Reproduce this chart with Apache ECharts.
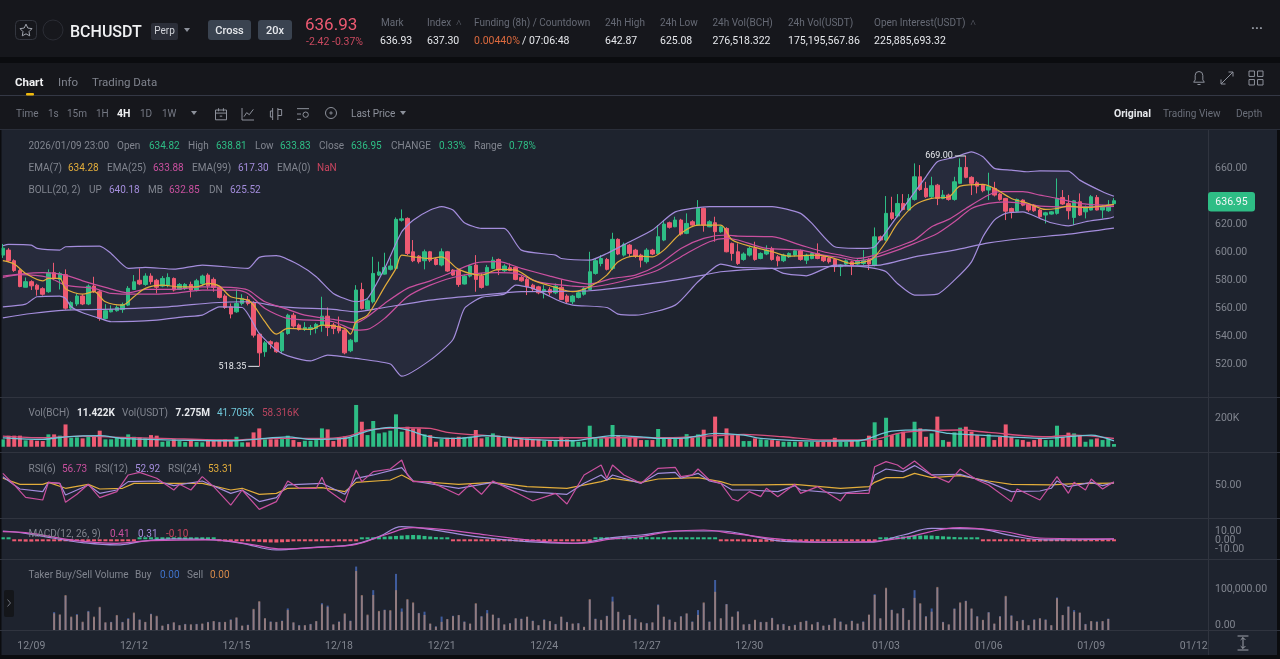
<!DOCTYPE html>
<html><head><meta charset="utf-8">
<style>html,body{margin:0;padding:0;background:#0b0c0f;overflow:hidden}#c{width:1280px;height:659px}</style>
<script src="https://cdn.jsdelivr.net/npm/echarts@6/dist/echarts.min.js"></script></head>
<body><div id="c"></div>
<script>
const opens=[598,601.6,594,587,575,579,576.5,574,571.8,585.4,
580.6,584,560,563,568.7,563,575.8,571.8,552.7,557.4,
558.2,559,562.2,573.4,580,577,583,580,575.8,576.5,
581.3,573.4,574,577,573,577.7,583.7,580.6,574.9,568.7,
561,557.4,563.4,566,563.9,541.4,528.8,536,535.2,529.5,
541.9,555,547.9,544.8,544.8,545.5,547.9,554.3,548,547.2,
544.3,529.5,536,573.4,559.3,564.6,583.7,584.4,587.8,588.5,
623,624.3,600.4,597.3,594,600.4,595.2,590.9,600.4,587.3,
587.3,577.3,583,590.9,583,576.5,588.5,594.9,586.8,589,
589.2,582,580.6,576.5,575.3,571.8,573.4,571,574.9,568.7,
564.6,567.7,570,573.4,584.9,592,594.9,588.5,609.3,598,
605.2,601.6,598,593.3,601.6,599.2,608.8,621.2,618.3,623.1,
613.6,621.9,619.5,631.5,618.3,621.2,614.8,617.1,606.4,600.4,
594.9,598,602.8,595.6,598.8,602.8,596.8,594,596.8,598,
601.1,594.4,595.6,599.2,596.8,595.6,594.9,589.7,591.6,593.2,
591.6,592,594.9,590.9,611.1,608.8,628.3,626,635,630.3,
637.9,654.1,645.8,639.8,648.1,638.6,641,637.9,649.4,660.8,
653.7,649.8,648.2,644.6,645.8,641.7,638.6,631.4,629.5,637.4,
634.5,633.8,630.3,626.7,627.4,627.9,639.3,635,625,636.2,
629,630.3,639.3,630.3,629.8,634.82];
const closes=[603,594,587,575.5,579,576,573.5,570,585.4,581.3,
584.9,560,564,568.7,563,575.8,571.8,552.7,558.2,559,
560.5,562.7,574.2,578.9,577.3,583,579,575,581.3,582,
573,577,577,573,579.6,583,576,574.9,567.7,560.5,
555.8,563.4,567,563.4,540.7,528,535.2,534.3,528.8,542.4,
555,547.2,544.8,546.2,546.2,548.4,554.3,546.2,545.5,543.8,
528,537.1,573,559.8,565.3,584.9,586,589.2,590.2,623.6,
624,599.2,594,593.3,600.4,594.4,591.3,600.4,586.6,583.7,
577,583,590.2,580.6,574.9,589.2,594.4,587.3,590.2,587,
580.6,579.6,575.3,573.7,571,573.4,571,575.8,566.3,564.6,
568.7,571,574.2,586.1,594,595.6,587.8,609.3,598.8,605.7,
599.2,597.3,594.4,601.6,598.8,611.2,620.2,617.9,623.1,613.1,
620.7,619.5,631.5,619.5,621.9,614.8,618.3,600.4,599.2,592,
598.8,602.8,594.9,599.2,601.6,594.9,594,598,599.2,601.1,
594.9,598,599.2,595.6,594,593.3,589.7,590.9,593.9,590.8,
594,594.4,591.6,611.1,608.8,627.9,624.3,635,630.7,638.6,
654.1,645,639.8,647.7,638.6,641,637.9,650.5,660.8,653.7,
649.4,647.4,644.1,647,641,637.9,629.5,629,637.9,633.8,
630.3,629.8,625.5,628.3,629,638.6,634.6,629.8,636.9,626.7,
632.6,639.8,630.3,633.1,633.8,636.95];
const highs=[606,603,595,588,582,580,577.5,575,587.8,592.5,
586,587.8,565,570.6,570,577,582.5,573,562.9,562,
562,564,575.8,583.7,588.5,585,585,581,583,585,
582,578,578,579,581,584,585,582,576,570,
563.4,573.4,570,568.7,565,542,536.5,537,536,543.4,
556,556.7,549,550,548,549.5,568.2,560.5,549.5,554,
545,538,576.5,578.2,567,596.8,593.3,599.7,595.6,625,
630.7,625,608.8,598,602,601,596,602.8,601,588,
588,584,591,598,585,591,596.8,595.6,591.5,592,
590,583,582,577.5,576,576.5,575,577.7,580.6,570,
569.5,572,575,600.4,596,598,596,614,610,607,
606,602.5,599,603,602.5,619.5,623,622,625.5,624,
627.9,623,637.4,632,623,625.5,619,618,607,606.4,
600,604,607.6,600,605,604,598,599,600,602,
602,599,600,606.4,598,596.5,596,591.5,595,594,
595,601.6,596,617.8,612,640.3,639.8,641.7,641.7,641.7,
663.7,662.5,650.5,654.1,649,644.6,642,654.1,667.3,669,
654.5,651,649,657,650.5,642.5,639,632,638.5,638,
635,634.5,631,629,629.5,652.9,644.6,641,637.5,642.2,
633.5,641,641,634,637.4,638.81];
const lows=[596,593,586,575,575,573,569,569,571,580,
573.4,559,559,561.5,562.2,562.2,571,551,552.2,557,
557.5,556.7,561.5,573,576.5,576,577,570.6,575,575,
572,573,573,567.7,572,576,573.4,571.8,567,559.5,
552.7,556.7,562,562,539,518.35,525.2,531,528,527.6,
541,546,544,543.7,540.7,541.9,543.1,540,541.4,542,
527,528.5,535.5,559,558,563.4,583,584,587,587.8,
622,598,593,592,587.8,593,590.6,590,586,583,
575.3,577,582,571.8,574,576,588,583.7,586,586.5,
580,579,569.4,572,570,567,569,570,565.8,563.4,
563,567,569,573,584,590,587,587.3,598,597,
596.8,596,589.2,592,598,598.8,608,617,618,612,
613,619,619,614.8,618,607.6,614,600,594,591,
594,597,594,595,598,594,590,593,596,597,
594,591.6,595,595,593,592,586,583,590,583.7,
591,591,587.3,590,608,608,623,625,630,630,
637,644,639,639,633.8,638,637,637,649,653,
641,642.2,643,637.4,640,637,623.1,624.3,629,633,
629,629,624.5,620.7,627,627,634,623.6,619.5,626,
624.3,630,630,624.3,629,633.83];
const volumeK=[52,78,78,78,45,47,42,40,87,87,
78,157,63,66,59,70,70,113,52,52,
66,59,87,70,66,59,82,78,35,40,
52,40,33,42,33,31,42,42,49,52,
45,70,31,31,101,129,52,52,52,54,
78,47,33,42,42,47,129,122,40,66,
73,66,294,176,82,181,94,101,113,228,
106,141,129,129,87,82,35,54,63,63,
70,66,66,118,59,70,94,78,70,66,
47,59,59,52,52,42,47,47,70,52,
42,35,35,148,59,59,66,153,82,70,
70,66,47,47,47,125,59,59,54,59,
89,63,87,120,54,212,59,129,82,82,
40,40,59,52,47,47,42,35,35,35,
35,35,35,35,35,35,63,35,35,47,
42,35,78,172,47,204,82,94,106,59,
176,129,70,94,212,47,35,101,134,141,
106,82,63,87,47,70,157,70,52,47,
35,47,59,47,47,148,70,99,94,82,
35,52,59,47,59,19];
const macdHist=[0.8,0.7,-2,-2.2,-2.5,-2.5,-2.2,-2,-1.8,-1.6,-1.3,
-1.2,-1.5,-1.5,-1.5,-1.6,-1.5,-1.5,-1.3,-1,-0.8,
-0.5,-0.3,-0.2,0.2,0.5,1,1.2,1.5,1.4,1.3,1.2,1.2,1.1,1,0.9,0.7,0.4,
-0.5,-0.8,-1,-1.2,-1.4,-1.6,-2,-2.8,-3.2,-3.4,-3.5,-3.2,-2.8,-2.2,-1.6,-1.2,-1,-0.8,-0.8,-0.7,-0.6,-0.5,-0.4,-0.3,-0.2,
1,1.6,2,2.4,2.8,3.2,3.6,4,4.4,4.6,4.4,3.6,3,2.4,1.8,1.3,
-0.8,-1,-1.2,-1.4,-1.6,-1.8,-2,-2,-1.8,-1.8,-1.6,-1.6,-1.4,-1.4,-1.2,-1.2,-1,-1,-1,-0.9,-0.8,-0.8,-0.6,-0.4,-0.2,
0.4,0.6,0.8,1,1.2,1.6,1.8,2,2.2,2.2,2.2,2.2,2.1,2,1.9,1.7,1.6,1.5,1.3,1.1,0.8,0.5,
-0.8,-1.2,-1.6,-2,-2.4,-2.6,-2.8,-2.8,-2.6,-2.4,-2.2,-2,-1.8,-1.6,-1.5,-1.4,-1.3,-1.2,-1.1,-1,-1,-0.9,-0.8,-0.8,-0.7,-0.6,-0.4,-0.2,
0.8,1.4,2,2.6,3,3.4,3.8,4,4.2,4,3.6,3.2,2.8,2.4,2,1.6,1.2,0.8,
-0.8,-1,-1.2,-1.4,-1.6,-1.8,-2,-2.2,-2.4,-2.4,-2.4,-2.2,-2,-1.8,-1.5,-1.2,-1,-0.9,-0.8,-0.7,-0.6,-0.5,-0.3,-0.1];
const takerSellK=[null,null,null,null,null,null,null,null,null,
41,38.5,86,33,37,20.5,45,33,57,19,19,37,19,27,43,25,20,38.5,35,11,14,19,12,14,14,14,16,19,22,19,20,25,31,11,12,52,71,29,20,20,22,49,19,11,12,14,22,63,57,14,20,41,22,145,86,38,86,47,49,49,98,45,76,68,41,37,16,8,20,27,34,37,20,16,66,33,41,38,29,14,16,29,27,33,22,12,25,22,14,33,19,16,16,8,76,27,25,34,70,45,25,37,27,
19,16,19,61,33,25,20,33,41,20,37,68,20,94,29,63,33,45,14,14,25,19,20,29,14,14,10,12,20,22,14,19,11,12,29,20,14,22,16,20,38,86,29,104,49,41,53,25,79,66,33,45,106,19,14,52,68,71,53,33,25,43,16,33,84,35,22,24,12,25,29,25,12,78,37,57,45,43,14,22,20,22,27,null];
const takerBuyK=[null,null,null,null,null,null,null,null,null,
44,37,84,31,39,19,47,31,55,18,20,35,20,29,41,26,19,40,33,10,15,18,11,15,13,15,15,20,21,20,19,26,30,10,13,50,69,28,21,19,23,53,18,12,11,15,21,66,60,13,21,39,23,156,84,36,98,45,50,47,138,53,74,66,42,45,15,9,33,26,35,36,21,15,64,34,49,37,30,13,17,28,28,32,23,11,26,21,15,32,20,15,17,7,74,28,24,35,82,44,26,36,28,
18,17,18,63,32,26,19,34,40,21,49,66,21,123,28,64,32,46,13,15,24,20,19,30,13,15,9,13,19,23,13,20,10,13,28,21,13,23,15,21,37,88,28,102,50,40,54,24,98,64,34,53,104,20,13,53,66,72,52,34,24,44,15,34,82,36,21,25,11,26,28,26,11,80,36,58,49,42,15,21,21,21,28,null];

const ema7=[[0,594],[2,591.6],[4,584.9],[7,579.6],[8,581.3],[10,581.3],[11,574],[14,570],[16,571.8],[18,564.6],[21,562.2],[23,568.2],[25,574.2],[28,576.5],[31,575.3],[34,575.3],[36,577.7],[38,575.8],[40,568.2],[43,565.8],[44,562.2],[46,550.3],[48,541.4],[50,545.5],[54,544.8],[56,547.9],[60,545.5],[61,541.4],[62,550.3],[64,555],[67,575.3],[69,588.5],[70,598],[72,596.8],[75,595.6],[77,596.8],[80,587.8],[84,583.7],[87,587.8],[90,587.3],[93,580.1],[97,574.9],[100,571.8],[103,575.3],[106,583.7],[108,593.3],[111,597.3],[114,596.8],[116,601.6],[119,613.6],[122,619.5],[126,619.5],[128,608.8],[132,603.5],[135,600.4],[138,597.3],[143,598],[146,595.6],[149,592],[152,594],[153,596.8],[155,607.6],[157,620.7],[160,633.8],[163,638.6],[166,639.8],[168,647.4],[172,648.6],[174,645.8],[177,638.6],[180,635],[183,630.7],[185,631.4],[187,633.1],[190,632],[193,633.1],[195,634.3]];
const ema25=[[0,583],[3,584.4],[7,585.4],[11,583.7],[14,579.6],[18,574.9],[22,571],[25,573.4],[30,573.4],[35,575.3],[40,574.9],[43,573],[46,564.6],[50,559.1],[53,555],[58,552],[62,549.6],[64,553.9],[67,563.4],[71,574.2],[75,579.6],[79,586],[83,592.5],[87,593.3],[91,588.5],[96,583],[100,579],[103,577.3],[107,581.3],[111,583.7],[115,590.9],[119,602.8],[123,610],[127,612.4],[129,611.6],[135,611.2],[140,605.2],[144,600.4],[147,598],[150,595.6],[153,598],[157,604],[160,608.8],[163,618.3],[166,623.6],[169,631.4],[173,641],[175,643.4],[179,643.4],[182,641],[185,638.6],[189,635],[193,633.8],[195,633.9]];
const ema99=[[0,553.1],[5,556.2],[11,558.6],[17,559.1],[29,561],[37,563.9],[43,564.6],[49,561],[58,559.1],[62,557.4],[66,559.8],[75,565.8],[84,569.4],[91,571.8],[103,572.5],[114,577.7],[123,583.7],[126,586.1],[135,588.5],[147,590.1],[154,590.9],[160,596.8],[167,601.6],[173,606.8],[179,609.9],[187,613],[195,617.3]];
const bollUp=[[0,604.7],[1,605.7],[5,605.2],[6,602.8],[10,601.6],[11,604],[17,604.5],[19,599.2],[22,588.5],[25,589.2],[30,588],[35,590.9],[43,588.5],[45,596.4],[48,597.6],[52,590.9],[55,582.5],[58,570.6],[62,564.6],[64,567],[67,588.5],[70,614.7],[72,623],[75,630.3],[77,632.7],[79,630.3],[81,621.2],[84,617.1],[88,617.1],[91,601.6],[97,598],[98,595.6],[103,594.4],[106,599.2],[110,607.6],[114,616],[118,629],[124,632.7],[135,632.7],[140,627.9],[142,620.7],[146,604],[151,602.8],[153,604],[155,614.7],[159,637.4],[162,654.1],[164,664.9],[167,668],[170,672],[172,668.5],[174,660.1],[177,658.9],[180,657.7],[182,658.4],[187,658.2],[189,651.7],[193,643.4],[195,640.2]];
const bollMb=[[0,582],[3,584],[8,582],[11,576.5],[16,574.2],[19,570.6],[24,570],[30,570.6],[35,573],[41,573],[43,570.6],[46,559.8],[50,552.7],[58,550.3],[62,544.3],[64,544.8],[67,552.7],[71,568.2],[75,576.5],[79,582],[82,584.4],[87,585.4],[90,584.9],[94,578.9],[100,575.8],[103,575.3],[107,577.7],[111,582],[115,587.3],[120,599.2],[124,607.6],[127,610],[129,608.8],[134,602.8],[140,601.6],[144,598],[147,596.3],[150,594],[153,596.3],[157,601.6],[160,606.4],[164,613.5],[167,621.9],[170,631.4],[173,635],[176,636.2],[179,635],[182,633.1],[187,632.6],[191,632.6],[195,632.85]];
const bollDn=[[0,561],[4,562.9],[6,568.2],[10,568.7],[11,567],[12,561],[14,556.7],[17,552.7],[19,550.3],[27,551.5],[32,553.9],[35,555],[38,561],[42,560.5],[45,541.9],[48,530],[50,525.9],[54,522.3],[57,526.4],[62,524],[68,520],[70,511.3],[75,522.8],[79,537.6],[81,559.8],[84,567.7],[88,570.1],[90,576.5],[93,574.2],[98,564.6],[100,562.2],[106,560.5],[108,555.8],[111,555],[118,562.2],[122,578.9],[126,591.6],[129,589.2],[135,588.5],[137,584.9],[141,583.2],[146,590.9],[150,590.1],[153,588.5],[155,586.1],[157,577.7],[160,569.4],[164,570.1],[167,580.1],[170,593.2],[172,611.1],[174,623.1],[176,627.9],[179,629],[182,624.3],[184,621.2],[187,619],[190,621.9],[194,624.3],[195,625.5]];
const volMaPink=[[0,75],[7,63],[14,75],[21,66],[28,59],[40,47],[48,59],[57,59],[61,78],[64,118],[71,134],[75,129],[78,101],[85,78],[92,63],[112,63],[119,66],[125,78],[130,87],[137,70],[144,47],[152,47],[158,101],[168,118],[173,101],[183,70],[188,82],[195,58]];
const volMaCyan=[[0,63],[7,52],[11,70],[17,78],[21,59],[30,47],[40,42],[44,52],[50,70],[54,52],[60,59],[64,110],[68,136],[71,118],[75,70],[80,59],[85,78],[92,52],[100,42],[107,78],[112,70],[115,59],[119,59],[125,94],[130,82],[133,59],[143,40],[150,42],[156,110],[162,118],[166,94],[173,78],[183,59],[191,82],[195,42]];
const rsi6=[[0,63.3],[2,50.4],[4,36.7],[7,33.7],[8,53.3],[10,52.2],[11,31.1],[13,40],[15,51.1],[17,36.3],[20,43],[22,61.5],[24,64.4],[27,57.8],[30,44.8],[31,51.1],[33,44.8],[35,59.6],[37,48.5],[40,28.1],[42,44.8],[45,23.3],[48,31.9],[50,54.8],[52,46.7],[55,46.7],[56,58.9],[57,44.8],[60,31.1],[62,67],[63,54.1],[65,65.2],[68,68.1],[70,78.1],[71,61.5],[72,54.1],[75,54.1],[80,39.3],[82,51.1],[84,40],[86,54.8],[90,42.2],[93,32.6],[97,41.1],[99,29.3],[102,61.5],[105,72.6],[106,57.8],[107,72.6],[109,61.5],[112,52.2],[115,68.9],[118,70],[119,59.6],[121,61.5],[122,68.1],[124,55.9],[126,52.2],[128,34.8],[129,32.6],[131,43],[133,37.4],[134,46.7],[136,37.4],[139,51.1],[140,41.1],[143,48.5],[147,32.6],[148,41.1],[152,41.1],[153,70.7],[155,76.3],[157,72.6],[158,68.1],[160,77],[163,61.5],[166,53.3],[168,68.1],[171,55.9],[173,50.4],[177,31.9],[178,45.9],[182,33.7],[185,59.6],[187,41.1],[188,53.3],[190,44.8],[191,57],[193,45.9],[195,54]];
const rsi12=[[0,59.6],[3,45.9],[7,43],[8,53.3],[10,52.2],[11,39.3],[15,50.4],[17,41.1],[20,44.8],[22,54.1],[27,54.8],[30,49.6],[35,54.8],[40,41.1],[42,44.8],[45,31.9],[48,36.3],[50,50.4],[56,52.2],[60,40],[62,57.8],[65,61.5],[70,69.6],[72,54.8],[80,46.7],[86,53.3],[92,43],[99,40],[102,52.2],[105,61.5],[106,55.9],[107,61.5],[112,52.2],[115,63.3],[118,64.4],[119,57.8],[122,63.3],[124,54.8],[126,52.2],[128,44.8],[131,44.8],[136,43],[139,49.6],[140,44.8],[147,41.1],[152,44.8],[153,61.5],[155,68.1],[158,65.2],[160,71.9],[163,61.5],[168,62.2],[173,53.3],[177,43],[182,43.7],[184,46.7],[185,54.8],[187,48.5],[191,53.3],[193,49.6],[195,53]];
const rsi24=[[0,57.8],[3,51.1],[7,51.1],[8,53.3],[11,46.7],[15,51.1],[17,45.9],[21,46.7],[23,52.2],[30,52.2],[35,52.2],[40,44.8],[42,46.7],[45,40],[48,41.1],[50,46.7],[56,47.4],[60,43],[62,53.3],[68,55.9],[70,61.5],[72,54.8],[80,51.1],[86,53.3],[92,48.5],[99,46.7],[105,54.1],[107,57.8],[112,53.3],[115,57],[118,57.8],[122,58.5],[126,54.1],[128,50.4],[133,50.4],[139,51.1],[147,46.7],[152,48.5],[153,53.3],[155,58.5],[158,58.5],[160,63.3],[163,58.5],[168,60.7],[173,54.8],[177,51.1],[184,50.4],[188,51.9],[195,52.5]];
const macdDif=[[0,8.9],[4,6.4],[9,1.1],[14,-3.6],[20,-6.1],[25,-1.8],[30,0.4],[37,-0.7],[42,-4.3],[48,-11.4],[54,-8.9],[61,-6.1],[66,2.9],[70,13.6],[75,10.7],[83,2.9],[92,-2.5],[100,-4.3],[107,1.8],[112,4.6],[118,8.9],[126,8.9],[132,2.9],[138,-2.5],[152,-3.2],[158,4.6],[163,11.8],[171,11.1],[177,3.9],[183,-0.7],[195,0.3]];
const macdDea=[[0,8.2],[5,6.4],[12,-0.7],[20,-4.3],[26,-1.4],[37,-0.7],[44,-6.1],[49,-10.4],[57,-7.9],[62,-5.4],[67,4.6],[72,12.5],[77,10.7],[85,4.6],[94,-1.8],[101,-4.3],[107,0.4],[112,2.9],[117,8.2],[123,10],[128,6.4],[136,0.4],[144,-3.2],[152,-2.5],[158,1.8],[168,12.5],[175,8.9],[183,1.1],[195,0.4]];
const priceTicks=[520,540,560,580,600,620,660];
const volTicks=[200];
const rsiTicks=[50];
const macdTicks=[-10,0,10];
const takerTicks=[100];
const xTickLabels=['12/09','12/12','12/15','12/18','12/21','12/24','12/27','12/30','01/03','01/06','01/09','01/12'];
const xTickIndex=[5,23,41,59,77,95,113,131,155,173,191,209];
const extremes=[[169,669,'669.00'],[45,518.35,'518.35']];
const lastClose=636.95;

const categories=[];
{const t0=Date.UTC(2025,11,8,4);
 for(let i=0;i<212;i++){const d=new Date(t0+i*4*3600e3);
  const p=n=>String(n).padStart(2,'0');
  categories.push(p(d.getUTCMonth()+1)+'/'+p(d.getUTCDate())+' '+p(d.getUTCHours())+':00');}}
const GREEN='#2ebd85',RED='#ee5a72',PINK='#c9509f',PURPLE='#a48ddc',YEL='#e2ad3b',GREY='#81858f',WHITE='#e6e8ec',CYAN='#6fc6d8';
const candleData=opens.map((o,i)=>[o,closes[i],lows[i],highs[i]]);
const volData=volumeK.map((v,i)=>({value:v,itemStyle:{color:closes[i]>=opens[i]?GREEN:RED}}));
const histData=macdHist.map(v=>({value:v,itemStyle:{color:v>=0?GREEN:RED}}));

const T=(x,y,text,fill,size,weight,align)=>({type:'text',z:100,silent:true,x,y:y+1,style:{text,fill:fill||GREY,font:(weight||400)+' '+(size||10.5)+'px Roboto',textAlign:align||'left',textVerticalAlign:'middle'}});
const R=(x,y,w,h,fill,r)=>({type:'rect',z:99,silent:true,shape:{x,y,width:w,height:h,r:r||0},style:{fill}});
const L=(x1,y1,x2,y2,stroke)=>({type:'line',z:99,silent:true,shape:{x1,y1,x2,y2},style:{stroke:stroke||'#30343f',lineWidth:1}});
const P=(d,x,y,w,h,stroke)=>({type:'path',shape:{pathData:d,layout:'center',x:x-w/2,y:y-h/2,width:w,height:h},style:{stroke:stroke||'#8d919b',fill:'none',lineWidth:1}});
const Tri=(x,y,c)=>({type:'polygon',z:100,silent:true,shape:{points:[[x-3,y-2],[x+3,y-2],[x,y+2]]},style:{fill:c||'#8d919b'}});
const row=(y,items)=>items.map(it=>T(it[0],y,it[1],it[2]||GREY,10,it[3]));

const icons=[
 P('M12 2l3 6.500 7 1-5 5 1.200 7-6.200-3.400L5.800 21.500 7 14.500l-5-5 7-1z',26,30,12,12,'#a0a4ad'),
 P('M12 3a5 5 0 0 1 5 5v6l2 3H5l2-3V8a5 5 0 0 1 5-5zM10 20h4',1199,78,12,13),
 P('M4 20L20 4M14 4h6v6M4 14v6h6',1227,78,12,12),
 P('M3 3h7v7H3zM14 3h7v7h-7zM3 14h7v7H3zM14 14h7v7h-7z',1256,78,14,14),
 P('M3 5h18v16H3zM3 10h18M8 2v5M16 2v5M10 15h4',221,114,11,12),
 P('M3 3v18h18M6 16l4-6 4 3 6-8',248,114,12,12),
 P('M7 4v16M7 8h-3v8h3M14 4v16M14 6h5v8h-5',276,114,12,12),
 P('M3 4h18M3 12h6M3 20h6M16 17a4 4 0 1 0 0-8 4 4 0 0 0 0 8z',303,114,12,12),
 P('M12 22a10 10 0 1 0 0-20 10 10 0 0 0 0 20zM12 14a2 2 0 1 0 0-4 2 2 0 0 0 0 4z',331,113,11,11),
 P('M9 5l6 7-6 7',9,603,4,7,'#6e727c'),
 P('M5 3h14M5 21h14M12 5v14M9 8l3-3 3 3M9 16l3 3 3-3',1243,643,11,14,'#9da1aa')
];

const graphics=[
 R(0,0,1280,57,'#16171c'),R(0,57,1280,6,'#0b0c0f'),R(0,63,1280,67,'#16171c'),
 R(0,655,1280,4,'#0b0c0f'),R(0,130,1.5,525,'#0b0c0f'),R(1277,130,3,525,'#0b0c0f'),
 L(0,95.5,1280,95.5,'#343845'),L(0,129.5,1280,129.5,'#2a2e39'),
 {type:'rect',z:100,silent:true,shape:{x:15.5,y:20.5,width:21,height:19,r:4},style:{fill:'none',stroke:'#33363f'}},
 {type:'circle',z:100,silent:true,shape:{cx:53,cy:30,r:10},style:{fill:'#17181d',stroke:'#2b2d35'}},
 T(70,32,'BCHUSDT','#f0f1f3',16,500),
 R(151,23,27,17,'#2b2e38',2),T(164.5,30.5,'Perp','#d0d2d8',10,400,'center'),Tri(187,30),
 R(208,20,43,20,'#3a4350',3),T(229.5,30,'Cross','#e6e8ec',11,500,'center'),
 R(258,20,34,20,'#3a4350',3),T(275,30,'20x','#e6e8ec',11,500,'center'),
 T(305,25,'636.93','#ee5a72',17,400),T(306,41,'-2.42 -0.37%','#c9495f',10.5),
 T(381,22,'Mark','#666a75',10),T(380,40,'636.93',WHITE,10.5),
 T(427,22,'Index  ˄','#666a75',10),T(427,40,'637.30',WHITE,10.5),
 T(474,22,'Funding (8h) / Countdown','#666a75',10),T(474,40,'0.00440%','#dd6a3e',10.5),T(522,40,'/ 07:06:48',WHITE,10.5),
 T(605,22,'24h High','#666a75',10),T(605,40,'642.87',WHITE,10.5),
 T(660,22,'24h Low','#666a75',10),T(660,40,'625.08',WHITE,10.5),
 T(712.5,22,'24h Vol(BCH)','#666a75',10),T(712.5,40,'276,518.322',WHITE,10.5),
 T(788,22,'24h Vol(USDT)','#666a75',10),T(788,40,'175,195,567.86',WHITE,10.5),
 T(874,22,'Open Interest(USDT)  ˄','#666a75',10),T(874,40,'225,885,693.32',WHITE,10.5),
 T(1257,28,'···','#9a9ea8',13,700,'center'),
 T(15,82,'Chart','#f0f1f3',11.5,700),T(58,82,'Info','#80848e',11.5),T(92,82,'Trading Data','#80848e',11.5),
 R(26,93,8,2.5,'#f0b90b',1),
 T(16,113.5,'Time','#757984',10),T(48,113.5,'1s','#757984',10),T(67,113.5,'15m','#757984',10),T(96,113.5,'1H','#757984',10),
 T(117,113.5,'4H','#f0f1f3',10.5,700),T(140,113.5,'1D','#757984',10),T(162,113.5,'1W','#757984',10),Tri(194,113),
 T(351,113.5,'Last Price','#8d919b',10),Tri(403,113),
 T(1114,113.5,'Original','#e6e8ec',10.5,700),T(1163,113.5,'Trading View','#6a6e79',10),T(1236,113.5,'Depth','#6a6e79',10),
 ...row(145,[[28.5,'2026/01/09 23:00'],[117,'Open'],[149,'634.82',GREEN],[188,'High'],[216,'638.81',GREEN],[255,'Low'],[280,'633.83',GREEN],[319,'Close'],[351,'636.95',GREEN],[391,'CHANGE'],[439,'0.33%',GREEN],[474,'Range'],[509,'0.78%',GREEN]]),
 ...row(167,[[28.5,'EMA(7)'],[68,'634.28',YEL],[107,'EMA(25)'],[153,'633.88',PINK],[192,'EMA(99)'],[238,'617.30',PURPLE],[277,'EMA(0)'],[317,'NaN','#c9455f']]),
 ...row(189,[[28.5,'BOLL(20, 2)'],[89,'UP'],[109,'640.18',PURPLE],[148,'MB'],[169,'632.85',PINK],[209,'DN'],[230,'625.52',PURPLE]]),
 ...row(412,[[28.5,'Vol(BCH)'],[77,'11.422K',WHITE,700],[122,'Vol(USDT)'],[175.5,'7.275M',WHITE,700],[217,'41.705K',CYAN],[262,'58.316K','#b9455f']]),
 ...row(468,[[28.5,'RSI(6)'],[62,'56.73',PINK],[95,'RSI(12)'],[135,'52.92',PURPLE],[168,'RSI(24)'],[208,'53.31',YEL]]),
 ...row(533,[[28.5,'MACD(12, 26, 9)'],[110,'0.41',PINK],[138,'0.31',PURPLE],[166,'-0.10','#c9455f']]),
 ...row(574.5,[[28.5,'Taker Buy/Sell Volume'],[135,'Buy'],[160,'0.00','#3f72c9'],[187,'Sell'],[210,'0.00','#d68a4a']]),
 L(0,397.5,1280,397.5),L(0,452.5,1280,452.5),L(0,518.5,1280,518.5),L(0,559.5,1280,559.5),L(0,630.5,1280,630.5),L(1208.5,130,1208.5,655),
 R(1208,192,47,19.5,'#2ebd85',3),T(1231.5,201,lastClose.toFixed(2),'#f4f6f8',10.5,400,'center'),
 R(4,590,10,27,'#14161a',2),
 T(1215,624,'0.00',GREY,10.5)
];

const panes=[{top:130,h:267,min:496.4,max:687.6,ticks:priceTicks,fmt:v=>v.toFixed(2)},
 {top:397,h:55,min:-37,max:350,ticks:volTicks,fmt:v=>v+'K'},
 {top:452,h:66,min:13.7,max:87,ticks:rsiTicks,fmt:v=>v.toFixed(2)},
 {top:518,h:41,min:-21.2,max:22.9,ticks:[],fmt:v=>v.toFixed(2)},
 {top:559,h:71,min:0,max:174.6,ticks:takerTicks,fmt:v=>(v*1000).toLocaleString('en-US')+'.00'}];

const line=(name,data,color,g,extra)=>Object.assign({type:'line',name,data,xAxisIndex:g,yAxisIndex:g,showSymbol:false,symbol:'none',lineStyle:{color,width:1.2},itemStyle:{color},z:5,silent:true,animation:false},extra||{});

const option={
 animation:false,backgroundColor:'#1e232e',
 textStyle:{fontFamily:'Roboto'},
 grid:panes.map(p=>({left:0,width:1208,top:p.top,height:p.h})),
 xAxis:panes.map((p,i)=>({type:'category',gridIndex:i,data:categories,boundaryGap:true,axisLine:{show:false},axisTick:{show:false},splitLine:{show:false},
   axisLabel:i<4?{show:false}:{show:true,color:GREY,fontSize:10.5,margin:11,
     interval:(idx)=>xTickIndex.includes(idx),
     formatter:(v,idx)=>xTickLabels[xTickIndex.indexOf(idx)]||''}})),
 yAxis:panes.map((p,i)=>({type:'value',gridIndex:i,position:'right',min:p.min,max:p.max,scale:true,axisLine:{show:false},axisTick:{show:false},splitLine:{show:false},
   axisLabel:i===3?{show:false}:{customValues:p.ticks,color:GREY,fontSize:10.5,margin:7,padding:[2,0,0,0],formatter:p.fmt}})),
 graphic:{elements:graphics},
 series:[
  {type:'custom',name:'BOLL band',xAxisIndex:0,yAxisIndex:0,z:1,silent:true,clip:true,data:[[0,600]],
   renderItem:(params,api)=>{const pts=bollUp.map(d=>api.coord(d)).concat(bollDn.slice().reverse().map(d=>api.coord(d)));
     return {type:'polygon',shape:{points:pts},style:{fill:'rgba(130,115,190,0.10)'}};}},
  {type:'candlestick',name:'BCHUSDT',data:candleData,xAxisIndex:0,yAxisIndex:0,barWidth:4,z:3,silent:true,
   itemStyle:{color:GREEN,color0:RED,borderColor:GREEN,borderColor0:RED,borderWidth:1}},
  line('UP',bollUp,PURPLE,0,{smooth:0.2}),line('MB',bollMb,PINK,0,{smooth:0.25}),line('DN',bollDn,PURPLE,0,{smooth:0.2}),
  line('EMA99',ema99,PURPLE,0,{smooth:0.25}),line('EMA25',ema25,PINK,0,{smooth:0.25}),line('EMA7',ema7,YEL,0,{smooth:0.3}),
  {type:'custom',name:'extremes',xAxisIndex:0,yAxisIndex:0,z:6,silent:true,clip:false,data:extremes,
   renderItem:(params,api)=>{const d=extremes[params.dataIndex];const c=api.coord([d[0],d[1]]);
     return {type:'group',children:[
      {type:'line',shape:{x1:c[0],y1:c[1],x2:c[0]-11,y2:c[1]},style:{stroke:'#e6e8ec',lineWidth:1}},
      {type:'text',x:c[0]-13,y:c[1],style:{text:d[2],fill:'#e6e8ec',font:'400 9px Roboto',textAlign:'right',textVerticalAlign:'middle'}}]};}},
  {type:'bar',name:'Vol',data:volData,xAxisIndex:1,yAxisIndex:1,barWidth:4,silent:true},
  line('VolMA pink',volMaPink,'#d8507e',1,{smooth:0.3,lineStyle:{color:'#d8507e',width:1.4}}),line('VolMA cyan',volMaCyan,CYAN,1,{smooth:0.3,lineStyle:{color:CYAN,width:1.3}}),
  line('RSI24',rsi24,YEL,2),line('RSI12',rsi12,PURPLE,2),line('RSI6',rsi6,PINK,2),
  {type:'bar',name:'MACD',data:histData,xAxisIndex:3,yAxisIndex:3,barWidth:4,barMinHeight:2,silent:true},
  line('DIF',macdDif,PURPLE,3,{smooth:0.4}),line('DEA',macdDea,'#cf58bd',3,{smooth:0.4}),
  {type:'custom',name:'MACD ticks',xAxisIndex:3,yAxisIndex:3,z:7,silent:true,clip:false,data:macdTicks.map(v=>[0,v]),
   renderItem:(params,api)=>{const v=macdTicks[params.dataIndex];const c=api.coord([0,v]);
     return {type:'text',x:1215,y:c[1]+1,style:{text:v.toFixed(2),fill:GREY,font:'400 10.5px Roboto',textAlign:'left',textVerticalAlign:'middle'}};}},
  {type:'bar',name:'Buy',data:takerBuyK,xAxisIndex:4,yAxisIndex:4,barWidth:2,barGap:'-100%',silent:true,itemStyle:{color:'#3f5c9e'}},
  {type:'bar',name:'Sell',data:takerSellK,xAxisIndex:4,yAxisIndex:4,barWidth:2,barGap:'-100%',silent:true,itemStyle:{color:'rgba(190,140,110,0.65)'}},
  {type:'custom',name:'icons',coordinateSystem:'none',z:200,silent:true,clip:false,data:[[0]],
   renderItem:()=>({type:'group',children:icons})}
 ]
};
const chart=echarts.init(document.getElementById('c'),null,{width:1280,height:659});
chart.setOption(option);
</script></body></html>
